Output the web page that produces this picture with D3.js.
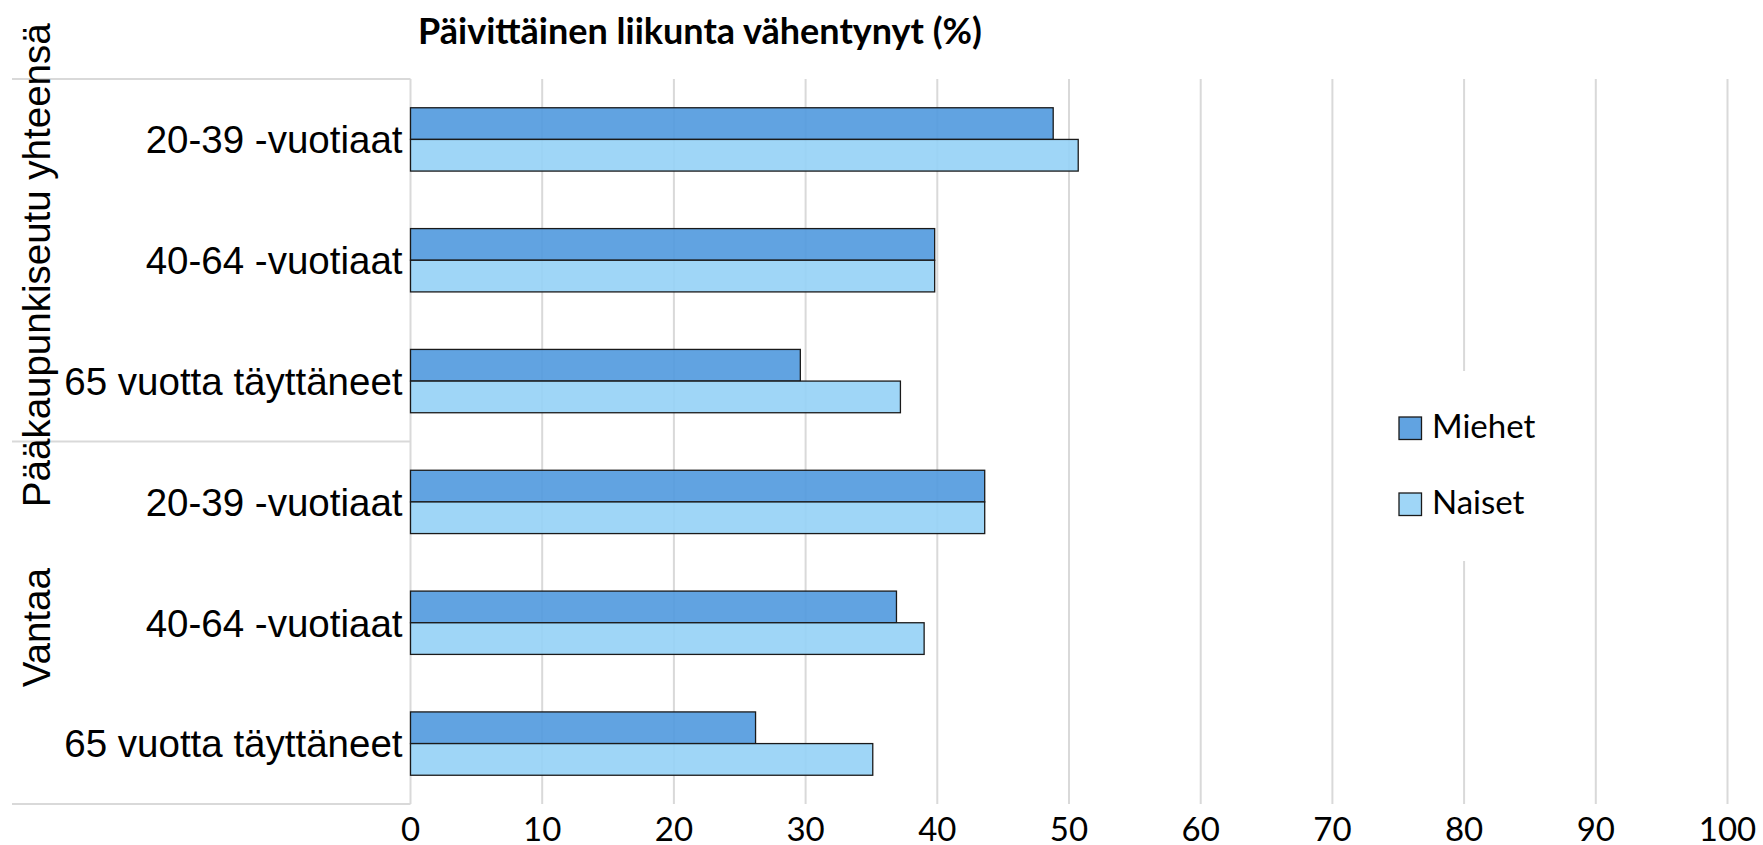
<!DOCTYPE html>
<html>
<head>
<meta charset="utf-8">
<script src="https://cdn.jsdelivr.net/npm/d3@7"></script>
<style>
  body { margin: 0; background: #fff; }
</style>
</head>
<body>
<script>
// data
var groups = ["Pääkaupunkiseutu yhteensä", "Vantaa"];
var ageGroups = ["20-39 -vuotiaat", "40-64 -vuotiaat", "65 vuotta täyttäneet"];
var seriesNames = ["Miehet", "Naiset"];
var miehet = [48.8, 39.8, 29.6, 43.6, 36.9, 26.2];
var naiset = [50.7, 39.8, 37.2, 43.6, 39.0, 35.1];
var xTickValues = [0, 10, 20, 30, 40, 50, 60, 70, 80, 90, 100];

var colors = ["#5099de", "#95d1f6"];

var width = 1763, height = 845;
var plotLeft = 410.5, plotRight = 1727.5, plotTop = 79, plotBottom = 804;

var svg = d3.select("body")
    .append("svg")
    .attr("width", width)
    .attr("height", height);

// one row per group/age pair
var rows = [];
groups.forEach(function(g, gi) {
    ageGroups.forEach(function(a, ai) {
        var i = gi * ageGroups.length + ai;
        rows.push({ id: i, group: g, age: a, values: [miehet[i], naiset[i]] });
    });
});

var x = d3.scaleLinear().domain([0, 100]).range([plotLeft, plotRight]);

var y = d3.scaleBand()
    .domain(rows.map(function(d) { return d.id; }))
    .range([plotTop, plotBottom])
    .paddingInner(0.476)
    .paddingOuter(0.238);

var ySub = d3.scaleBand()
    .domain(seriesNames)
    .range([0, y.bandwidth()]);

// gridlines
svg.append("g")
    .selectAll("line")
    .data(xTickValues)
    .enter()
    .append("line")
    .attr("x1", function(d) { return x(d); })
    .attr("x2", function(d) { return x(d); })
    .attr("y1", plotTop)
    .attr("y2", plotBottom)
    .attr("stroke", "#d9d9d9")
    .attr("stroke-width", 2);

// group separators on the category axis
function edgeY(d) {
    return d < rows.length ? y(d) - y.step() * y.paddingOuter() : plotBottom;
}
var groupEdges = [0, ageGroups.length, rows.length];
svg.append("g")
    .selectAll("line")
    .data(groupEdges)
    .enter()
    .append("line")
    .attr("x1", 12)
    .attr("x2", plotLeft)
    .attr("y1", edgeY)
    .attr("y2", edgeY)
    .attr("stroke", "#d9d9d9")
    .attr("stroke-width", 2);

// bars
var rowG = svg.append("g")
    .selectAll("g")
    .data(rows)
    .enter()
    .append("g")
    .attr("transform", function(d) { return "translate(0," + y(d.id) + ")"; });

rowG.selectAll("rect")
    .data(function(d) {
        return d.values.map(function(v, i) { return { name: seriesNames[i], value: v, i: i }; });
    })
    .enter()
    .append("rect")
    .attr("x", x(0))
    .attr("y", function(d) { return ySub(d.name); })
    .attr("width", function(d) { return x(d.value) - x(0); })
    .attr("height", ySub.bandwidth())
    .attr("fill", function(d) { return colors[d.i]; })
    .attr("fill-opacity", 0.9)
    .attr("stroke", "#1a1a1a")
    .attr("stroke-width", 1.3);

// category labels
svg.append("g")
    .selectAll("text")
    .data(rows)
    .enter()
    .append("text")
    .text(function(d) { return d.age; })
    .attr("x", plotLeft - 8)
    .attr("y", function(d) { return y(d.id) + y.bandwidth() / 2; })
    .attr("dy", "0.36em")
    .attr("text-anchor", "end")
    .attr("font-family", "'Liberation Sans', Arial, sans-serif")
    .attr("font-size", "38.5px")
    .attr("fill", "#000");

// group labels, rotated
svg.append("g")
    .selectAll("text")
    .data(groups)
    .enter()
    .append("text")
    .text(function(d) { return d; })
    .attr("transform", function(d, gi) {
        var first = rows[gi * ageGroups.length].id;
        var last = rows[gi * ageGroups.length + ageGroups.length - 1].id;
        var cy = (y(first) + y(last) + y.bandwidth()) / 2;
        return "translate(50," + (cy + 5) + ") rotate(-90)";
    })
    .attr("text-anchor", "middle")
    .attr("font-family", "'Liberation Sans', Arial, sans-serif")
    .attr("font-size", "38.5px")
    .attr("fill", "#000");

// x axis tick labels
svg.append("g")
    .selectAll("text")
    .data(xTickValues)
    .enter()
    .append("text")
    .text(function(d) { return d; })
    .attr("x", function(d) { return x(d); })
    .attr("y", 841)
    .attr("text-anchor", "middle")
    .attr("font-family", "Lato, sans-serif")
    .attr("font-size", "33px")
    .attr("fill", "#000");

// title
svg.append("text")
    .text("Päivittäinen liikunta vähentynyt (%)")
    .attr("x", 418)
    .attr("y", 44)
    .attr("font-family", "Lato, sans-serif")
    .attr("font-weight", "bold")
    .attr("font-size", "36px")
    .attr("fill", "#000");

// legend
var legend = svg.append("g");
legend.append("rect")
    .attr("x", 1385)
    .attr("y", 371)
    .attr("width", 190)
    .attr("height", 190)
    .attr("fill", "#fff");

var legendItem = legend.selectAll("g")
    .data(seriesNames)
    .enter()
    .append("g")
    .attr("transform", function(d, i) { return "translate(1399," + (417 + i * 76) + ")"; });

legendItem.append("rect")
    .attr("width", 22.5)
    .attr("height", 22.5)
    .attr("fill", function(d, i) { return colors[i]; })
    .attr("fill-opacity", 0.9)
    .attr("stroke", "#1a1a1a")
    .attr("stroke-width", 1.3);

legendItem.append("text")
    .text(function(d) { return d; })
    .attr("x", 33)
    .attr("y", 20.5)
    .attr("font-family", "Lato, sans-serif")
    .attr("font-size", "33px")
    .attr("fill", "#000");
</script>
</body>
</html>
